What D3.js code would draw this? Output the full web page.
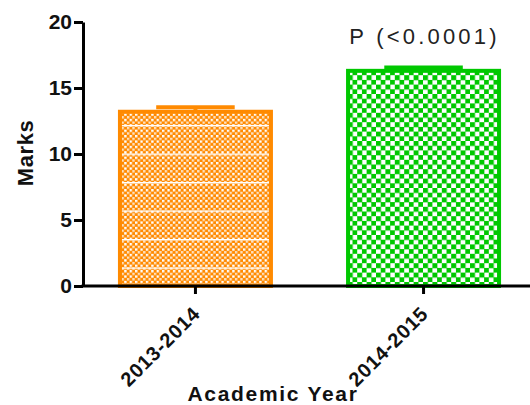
<!DOCTYPE html>
<html>
<head>
<meta charset="utf-8">
<script src="https://cdn.jsdelivr.net/npm/d3@7"></script>
<style>
  body { margin: 0; background: #fff; }
  svg { display: block; font-family: "Liberation Sans", Arial, sans-serif; }
</style>
</head>
<body>
<svg id="chart" width="530" height="405"></svg>
<script>
// data
const years = ['2013-2014', '2014-2015'];
const marks = [13.2, 16.3];
const sem = [0.35, 0.25];
const yTicks = [0, 5, 10, 15, 20];
const pLabel = 'P (<0.0001)';

const svg = d3.select('#chart');
const W = 530, H = 405;

const x = d3.scaleBand()
    .domain(years)
    .range([83, 536])
    .paddingInner(0.338)
    .paddingOuter(0.162);

const y = d3.scaleLinear()
    .domain([0, 20])
    .range([286, 22]);

// fill patterns
const defs = svg.append('defs');

const orange = '#ff8a00';
const green = '#00c800';

let po = defs.append('pattern')
    .attr('id', 'chkOrange')
    .attr('patternUnits', 'userSpaceOnUse')
    .attr('width', 5.4).attr('height', 5.4);
po.append('rect').attr('width', 5.4).attr('height', 5.4).attr('fill', orange);
po.append('rect').attr('width', 2.4).attr('height', 2.4).attr('fill', '#fff');
po.append('rect').attr('x', 2.7).attr('y', 2.7).attr('width', 2.4).attr('height', 2.4).attr('fill', '#ffe2c0');

let pl = defs.append('pattern')
    .attr('id', 'linesOrange')
    .attr('patternUnits', 'userSpaceOnUse')
    .attr('y', 11)
    .attr('width', 10).attr('height', 28.5);
pl.append('rect').attr('width', 10).attr('height', 1.4).attr('fill', '#fff');

let pg = defs.append('pattern')
    .attr('id', 'chkGreen')
    .attr('patternUnits', 'userSpaceOnUse')
    .attr('width', 9.4).attr('height', 9.4);
pg.append('rect').attr('width', 9.4).attr('height', 9.4).attr('fill', '#fff');
pg.append('rect').attr('width', 5).attr('height', 5).attr('fill', green);
pg.append('rect').attr('x', 4.7).attr('y', 4.7).attr('width', 5).attr('height', 5).attr('fill', green);

const fills = ['url(#chkOrange)', 'url(#chkGreen)'];
const strokes = [orange, green];

// bars
const bars = svg.append('g')
    .selectAll('g')
    .data(years)
    .enter()
    .append('g');

bars.append('rect')
    .attr('x', d => x(d))
    .attr('y', (d, i) => y(marks[i]))
    .attr('width', x.bandwidth())
    .attr('height', (d, i) => y(0) - y(marks[i]))
    .attr('fill', (d, i) => fills[i])
    .attr('stroke', (d, i) => strokes[i])
    .attr('stroke-width', 4);

// the white streaks only on the first bar
bars.filter((d, i) => i === 0)
    .append('rect')
    .attr('x', d => x(d) + 2)
    .attr('y', (d, i) => y(marks[0]) + 2)
    .attr('width', x.bandwidth() - 4)
    .attr('height', y(0) - y(marks[0]) - 4)
    .attr('fill', 'url(#linesOrange)');

// error bars (upper half only shows)
const capW = x.bandwidth() * 0.52;
bars.append('line')
    .attr('x1', d => x(d) + x.bandwidth() / 2)
    .attr('x2', d => x(d) + x.bandwidth() / 2)
    .attr('y1', (d, i) => y(marks[i]))
    .attr('y2', (d, i) => y(marks[i] + sem[i]))
    .attr('stroke', (d, i) => strokes[i])
    .attr('stroke-width', 4);
bars.append('line')
    .attr('x1', d => x(d) + (x.bandwidth() - capW) / 2)
    .attr('x2', d => x(d) + (x.bandwidth() + capW) / 2)
    .attr('y1', (d, i) => y(marks[i] + sem[i]))
    .attr('y2', (d, i) => y(marks[i] + sem[i]))
    .attr('stroke', (d, i) => strokes[i])
    .attr('stroke-width', 4);

// axes
const yAxis = svg.append('g')
    .attr('transform', 'translate(83,0)')
    .call(d3.axisLeft(y).tickValues(yTicks).tickSize(9).tickSizeOuter(0).tickPadding(2));

const xAxis = svg.append('g')
    .attr('transform', 'translate(0,' + y(0) + ')')
    .call(d3.axisBottom(x).tickSize(8).tickSizeOuter(0));
xAxis.select('.domain').attr('d', 'M81.5,0H' + W);

[yAxis, xAxis].forEach(a => {
    a.select('.domain').attr('stroke', '#000').attr('stroke-width', 3);
    a.selectAll('.tick line').attr('stroke', '#000').attr('stroke-width', 3);
    a.selectAll('.tick text')
        .attr('fill', '#111')
        .attr('font-size', 21)
        .attr('font-weight', 'bold')
        .attr('font-family', '"Liberation Sans", Arial, sans-serif');
});

xAxis.selectAll('.tick text')
    .attr('font-size', 20)
    .attr('text-anchor', 'end')
    .attr('dy', null)
    .attr('y', null)
    .attr('transform', 'translate(6,29) rotate(-45)')
    .attr('letter-spacing', 0.8);

// axis titles
svg.append('text')
    .attr('x', 273)
    .attr('y', 401)
    .attr('text-anchor', 'middle')
    .attr('font-size', 21)
    .attr('font-weight', 'bold')
    .attr('letter-spacing', 1.7)
    .attr('fill', '#111')
    .text('Academic Year');

svg.append('text')
    .attr('transform', 'translate(33,153) rotate(-90)')
    .attr('text-anchor', 'middle')
    .attr('font-size', 22)
    .attr('font-weight', 'bold')
    .attr('letter-spacing', 0.6)
    .attr('fill', '#111')
    .text('Marks');

// significance label over second bar
svg.append('text')
    .attr('x', x(years[1]) + x.bandwidth() / 2 + 1)
    .attr('y', 44)
    .attr('text-anchor', 'middle')
    .attr('font-size', 22)
    .attr('letter-spacing', 3.2)
    .attr('fill', '#222')
    .text(pLabel);
</script>
</body>
</html>
